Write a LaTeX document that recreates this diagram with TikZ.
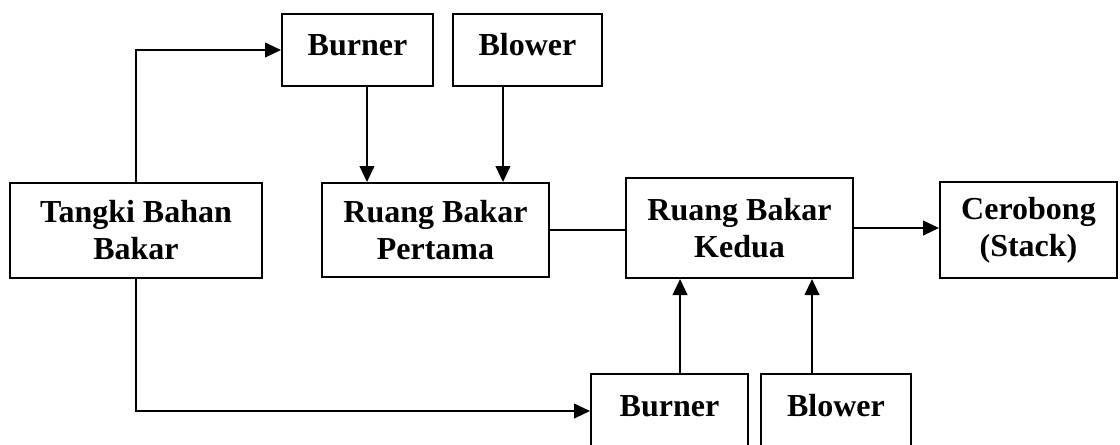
\documentclass[tikz,border=0pt]{standalone}
\usepackage{fontspec}
\setmainfont{Liberation Serif}
\usetikzlibrary{arrows.meta}
\begin{document}
\begin{tikzpicture}[x=0.75pt,y=-0.75pt,
  box/.style={draw,line width=1.5pt,align=center,inner sep=0pt,
    font=\fontsize{24pt}{27.75pt}\selectfont\bfseries},
  onebox/.style={box,text depth=8pt},
  conn/.style={line width=1.5pt},
  arr/.style={conn,-{Triangle[length=12pt,width=11pt]}}]
\useasboundingbox (0,0) rectangle (1120,444);
\fill[white] (0,0) rectangle (1120,444);
\node[onebox,minimum width=113.25pt,minimum height=54pt] (burner1) at (357.5,50) {Burner};
\node[onebox,minimum width=111.75pt,minimum height=54pt] (blower1) at (527.5,50) {Blower};
\node[box,minimum width=189pt,minimum height=71.25pt] (tangki) at (136,230.5) {Tangki Bahan\\Bakar};
\node[box,minimum width=170.25pt,minimum height=70.5pt] (pertama) at (435.5,230) {Ruang Bakar\\Pertama};
\node[box,minimum width=170.25pt,minimum height=75pt] (kedua) at (739.5,228) {Ruang Bakar\\Kedua};
\node[box,minimum width=132.75pt,minimum height=72pt] (cerobong) at (1028.5,230) {Cerobong\\(Stack)};
\node[onebox,minimum width=117.75pt,minimum height=55.5pt] (burner2) at (669.5,411) {Burner};
\node[onebox,minimum width=112.5pt,minimum height=55.5pt] (blower2) at (836,411) {Blower};
\draw[arr] (tangki.north) |- (burner1.west);
\draw[arr] ([xshift=7.1pt]burner1.south) -- ([xshift=7.1pt]burner1.south |- pertama.north);
\draw[arr] ([xshift=-18.4pt]blower1.south) -- ([xshift=-18.4pt]blower1.south |- pertama.north);
\draw[conn] (pertama.east) -- (pertama.east -| kedua.west);
\draw[arr] (kedua.east) -- (kedua.east -| cerobong.west);
\draw[arr] (tangki.south) |- (burner2.west);
\draw[arr] ([xshift=7.9pt]burner2.north) -- ([xshift=7.9pt]burner2.north |- kedua.south);
\draw[arr] ([xshift=-18pt]blower2.north) -- ([xshift=-18pt]blower2.north |- kedua.south);
\end{tikzpicture}
\end{document}
